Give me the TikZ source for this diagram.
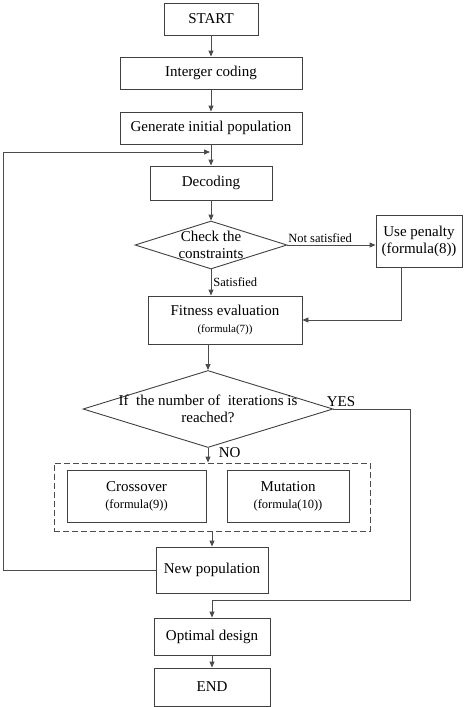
\documentclass[tikz,border=0pt]{standalone}
\usepackage{fontspec}
\setmainfont{Liberation Serif}
\usetikzlibrary{shapes.geometric,arrows.meta}
\newcommand{\bigsize}{\fontsize{15}{17}\selectfont}
\newcommand{\labsize}{\fontsize{12.5}{15}\selectfont}
\newcommand{\formsize}{\fontsize{11}{13}\selectfont}

\begin{document}
\begin{tikzpicture}[x=1pt,y=-1pt,
    box/.style={draw=black!75,line width=0.9pt,inner sep=0pt,align=center,font=\bigsize},
    decision/.style={diamond,draw=black!75,line width=0.9pt,inner sep=0pt},
    arr/.style={draw=black!70,line width=0.9pt,-{Triangle[length=6pt,width=5pt]}},
    lbl/.style={font=\labsize,inner sep=2pt}]
  \useasboundingbox (0,0) rectangle (474,707);

  % main column
  \node (start) [box,minimum width=94,minimum height=32] at (211,19) {START};
  \node (coding) [box,minimum width=182,minimum height=32] at (211,73) {Interger coding};
  \node (init) [box,minimum width=182,minimum height=32] at (211,128) {Generate initial population};
  \node (decode) [box,minimum width=122,minimum height=34] at (211,183) {Decoding};
  \node (check) [decision,minimum width=152,minimum height=48,
    label={[name=checktxt,font=\bigsize,align=center]center:{Check the\\constraints}}] at (211,245) {};
  \node (penalty) [box,minimum width=86,minimum height=52] at (419,241) {Use penalty\\(formula(8))};
  \node (fitness) [box,minimum width=154,minimum height=48] at (225,320)
    {Fitness evaluation\\{\formsize (formula(7))}};
  \node (iter) [decision,minimum width=250,minimum height=77,
    label={[name=itertxt,font=\bigsize,align=center]center:{If~ the number of~ iterations is\\reached?}}] at (208,409) {};

  % genetic operators
  \node (ops) [draw=black!70,line width=0.9pt,dash pattern=on 6pt off 3pt,
    minimum width=316,minimum height=68] at (212,497) {};
  \node (cross) [box,minimum width=139,minimum height=52] at (136.5,496) {Crossover\\{\labsize (formula(9))}};
  \node (mut) [box,minimum width=122,minimum height=52] at (288,496) {Mutation\\{\labsize (formula(10))}};

  \node (newpop) [box,minimum width=112,minimum height=46] at (212,570) {New population};
  \node (opt) [box,minimum width=116,minimum height=37] at (212,636.5) {Optimal design};
  \node (end) [box,minimum width=116,minimum height=38] at (212,687) {END};

  \coordinate (loopleft) at (3,570);
  \coordinate (loopin) at (210,152);
  \coordinate (yesright) at (410,600);

  \foreach \from/\to in {start/coding, coding/init, init/decode, decode/check, ops/newpop, opt/end}
    \draw[arr] (\from) -- (\to);

  \draw[arr] (check.east) -- (check.east -| penalty.west)
    node[lbl,above,pos=0.37] {Not satisfied};
  \draw[arr] (check.south) -- (check.south |- fitness.north)
    node[lbl,right,midway] {Satisfied};
  \draw[arr] ([xshift=-18pt]penalty.south) |- (fitness.east);
  \draw[arr] (iter.north |- fitness.south) -- (iter.north);
  \draw[arr] (iter.south) -- (iter.south |- ops.north)
    node[right,midway,xshift=7pt,yshift=3pt,font=\bigsize] {NO};
  \draw[arr] (iter.east) node[above right,xshift=-8pt,yshift=1pt,font=\bigsize,inner sep=1pt] {YES}
    -| (yesright) -| (opt.north);
  \draw[arr] (newpop.west) -- (loopleft) |- (loopin);

\end{tikzpicture}
\end{document}
